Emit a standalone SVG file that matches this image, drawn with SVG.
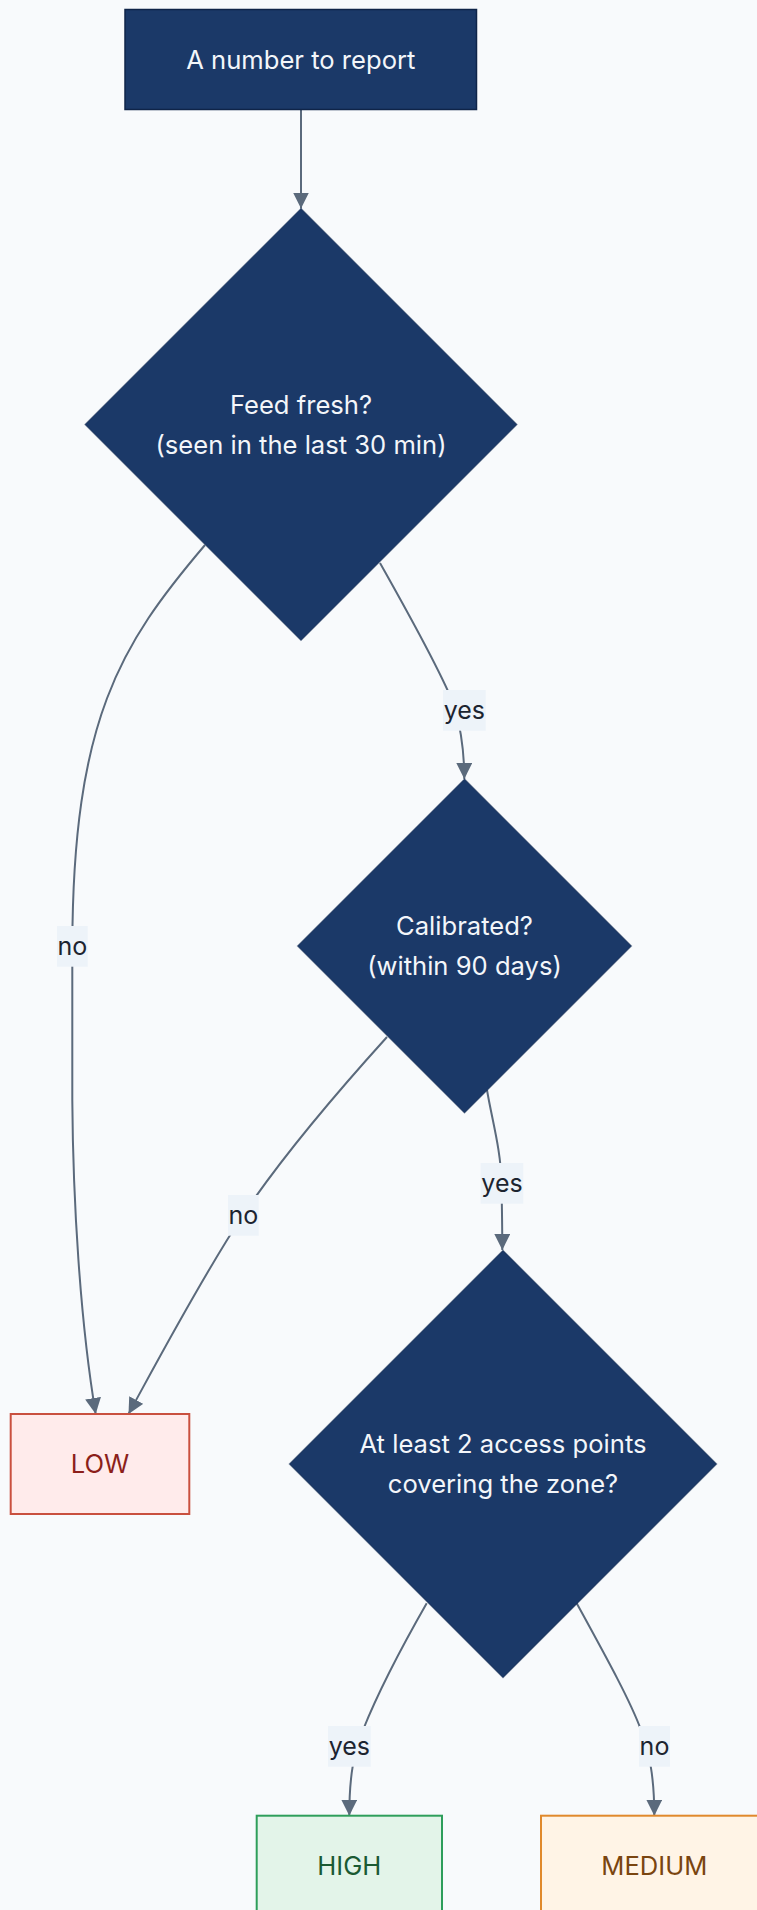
<svg xmlns="http://www.w3.org/2000/svg" width="757" height="1910" viewBox="0 0 757 1910">
  <defs>
    <marker id="arrow" viewBox="0 0 10 10" refX="10" refY="5" markerUnits="userSpaceOnUse" markerWidth="16" markerHeight="16" orient="auto">
      <path d="M0,0 L10,5 L0,10 z" fill="#5b6a7c"/>
    </marker>
    <style>
      .bg { fill: #f8fafc; }
      .decision { fill: #1b3968; stroke: #12295080; stroke-width: 1.2; }
      .start { fill: #1b3968; stroke: #0f2448; stroke-width: 1.5; }
      .ntext { font-family: Inter, "Noto Sans", "Liberation Sans", sans-serif; font-size: 25.6px; fill: #f3f6fa; text-anchor: middle; }
      .edge { fill: none; stroke: #5b6a7c; stroke-width: 2; marker-end: url(#arrow); }
      .lbl-bg { fill: #edf3f9; }
      .lbl { font-family: Inter, "Noto Sans", "Liberation Sans", sans-serif; font-size: 25px; fill: #1c2430; text-anchor: middle; }
      .low { fill: #ffebeb; stroke: #c9503f; stroke-width: 2; }
      .low-t { fill: #8c1f1a; }
      .high { fill: #e3f4e9; stroke: #2e9e5b; stroke-width: 2; }
      .high-t { fill: #1b5a33; }
      .med { fill: #fff4e6; stroke: #e0892c; stroke-width: 2; }
      .med-t { fill: #7a4510; }
    </style>
  </defs>

  <rect class="bg" x="0" y="0" width="757" height="1910"/>

  <!-- connectors -->
  <g id="edges">
    <path class="edge" d="M301,109.5 L301,208.5"/>
    <path class="edge" d="M205,545 C120,645 73,720 72.3,946 L72.3,1100 C73,1200 80,1320 95.7,1414"/>
    <path class="edge" d="M380,563 C415,625 445,680 455,708 C462,733 464.3,752 464.3,779"/>
    <path class="edge" d="M387,1037 C330,1100 280,1160 243,1215 C200,1280 150,1375 128.5,1414"/>
    <path class="edge" d="M487,1090 C492,1120 501,1150 501.5,1183 C502,1210 502.3,1228 502.3,1250"/>
    <path class="edge" d="M426.7,1603.3 C400,1650 375,1700 363,1730 C354,1752 349.3,1775 349.3,1815.7"/>
    <path class="edge" d="M576.7,1603.3 C605,1655 630,1700 641,1730 C649,1752 654.3,1775 654.3,1815.7"/>

    <g id="edge-labels">
      <rect class="lbl-bg" x="443" y="690" width="42.7" height="40.7"/>
      <text class="lbl" x="464.3" y="718.8">yes</text>
      <rect class="lbl-bg" x="57" y="926" width="30.7" height="40.7"/>
      <text class="lbl" x="72.3" y="954.8">no</text>
      <rect class="lbl-bg" x="228" y="1195" width="30.7" height="40.7"/>
      <text class="lbl" x="243.3" y="1223.8">no</text>
      <rect class="lbl-bg" x="480.6" y="1163" width="42.7" height="40.7"/>
      <text class="lbl" x="502" y="1191.8">yes</text>
      <rect class="lbl-bg" x="328" y="1726" width="42.7" height="40.7"/>
      <text class="lbl" x="349.3" y="1754.8">yes</text>
      <rect class="lbl-bg" x="639" y="1726" width="31" height="40.7"/>
      <text class="lbl" x="654.5" y="1754.8">no</text>
    </g>
  </g>

  <g id="report">
    <rect class="start" x="125" y="9.5" width="351.5" height="100"/>
    <text class="ntext" x="300.8" y="68.5">A number to report</text>
  </g>

  <g id="fresh">
    <polygon class="decision" points="301,208.5 517,424.5 301,640.5 85,424.5"/>
    <text class="ntext" x="301" y="413.5">Feed fresh?</text>
    <text class="ntext" x="301" y="453.7">(seen in the last 30 min)</text>
  </g>

  <g id="calibrated">
    <polygon class="decision" points="464.5,779 631.5,946 464.5,1113 297.5,946"/>
    <text class="ntext" x="464.5" y="934.7">Calibrated?</text>
    <text class="ntext" x="464.5" y="974.7">(within 90 days)</text>
  </g>

  <g id="coverage">
    <polygon class="decision" points="503,1250.3 716.7,1464 503,1677.7 289.3,1464"/>
    <text class="ntext" x="503" y="1452.6">At least 2 access points</text>
    <text class="ntext" x="503" y="1492.6">covering the zone?</text>
  </g>

  <g id="low">
    <rect class="low" x="10.7" y="1414" width="178.6" height="100"/>
    <text class="lbl low-t" x="100" y="1472.9" style="font-size:25.6px">LOW</text>
  </g>

  <g id="high">
    <rect class="high" x="256.7" y="1815.7" width="185.3" height="100"/>
    <text class="lbl high-t" x="349.3" y="1874.5" style="font-size:25.6px">HIGH</text>
  </g>

  <g id="medium">
    <rect class="med" x="541" y="1815.7" width="226.6" height="100"/>
    <text class="lbl med-t" x="654.3" y="1874.5" style="font-size:25.6px">MEDIUM</text>
  </g>
</svg>
